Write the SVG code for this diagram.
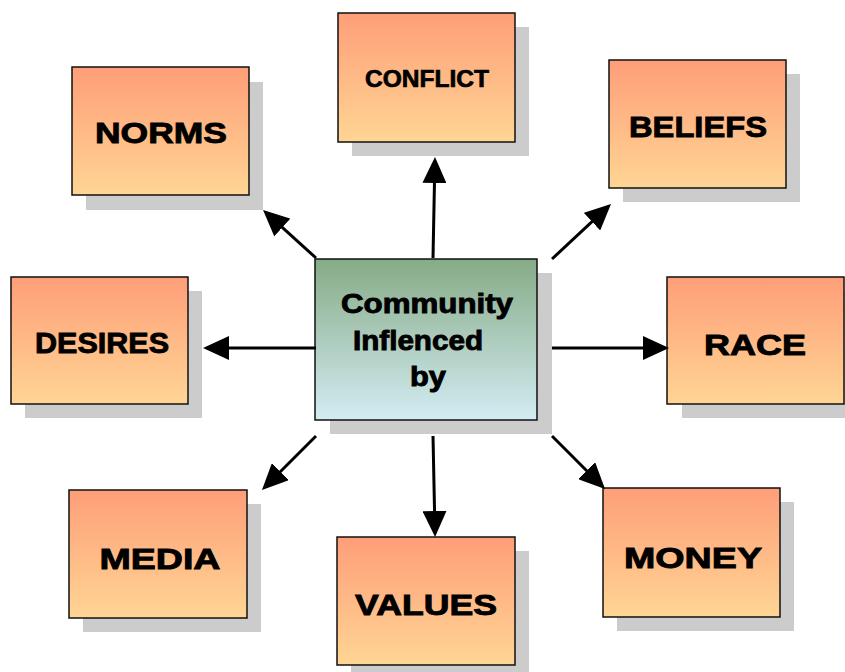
<svg xmlns="http://www.w3.org/2000/svg" width="845" height="672" viewBox="0 0 845 672">
<defs>
<linearGradient id="og" x1="0" y1="0" x2="0" y2="1">
<stop offset="0" stop-color="#fe9e78"/>
<stop offset="1" stop-color="#ffd594"/>
</linearGradient>
<linearGradient id="cg" x1="0" y1="0" x2="0" y2="1">
<stop offset="0" stop-color="#86ab86"/>
<stop offset="1" stop-color="#d3ecf3"/>
</linearGradient>
<marker id="ah" markerUnits="userSpaceOnUse" markerWidth="26" markerHeight="24" refX="22" refY="12" orient="auto">
<path d="M0,0 L26,12 L0,24 z" fill="#000"/>
</marker>
</defs>
<style>
.sh{fill:#cccccc}
.bx{fill:url(#og);stroke:#111;stroke-width:1.5}
.cb{fill:url(#cg);stroke:#111;stroke-width:1.5}
.t{font-family:"Liberation Sans",Arial,sans-serif;font-weight:bold;font-size:30px;fill:#000;stroke:#000;stroke-width:0.9;text-anchor:middle}
.tc{font-family:"Liberation Sans",Arial,sans-serif;font-weight:bold;font-size:23px;fill:#000;stroke:#000;stroke-width:0.7;text-anchor:middle}
.ln{stroke:#000;stroke-width:3;fill:none;marker-end:url(#ah)}
</style>
<rect width="845" height="672" fill="#fff"/>
<g id="norms"><rect class="sh" x="86" y="82" width="177" height="128"/><rect class="bx" x="72" y="67" width="177" height="128"/><text class="t" x="161" y="143" textLength="132" lengthAdjust="spacingAndGlyphs">NORMS</text></g>
<g id="conflict"><rect class="sh" x="352" y="27" width="177" height="129"/><rect class="bx" x="338" y="13" width="177" height="129"/><text class="tc" x="427" y="87" textLength="124" lengthAdjust="spacingAndGlyphs">CONFLICT</text></g>
<g id="beliefs"><rect class="sh" x="623" y="74" width="177" height="128"/><rect class="bx" x="609" y="60" width="177" height="128"/><text class="t" x="698" y="137" textLength="138" lengthAdjust="spacingAndGlyphs">BELIEFS</text></g>
<g id="desires"><rect class="sh" x="25" y="291" width="177" height="127"/><rect class="bx" x="11" y="277" width="177" height="127"/><text class="t" x="102" y="353" textLength="134" lengthAdjust="spacingAndGlyphs">DESIRES</text></g>
<g id="race"><rect class="sh" x="682" y="291" width="177" height="127"/><rect class="bx" x="667" y="277" width="177" height="127"/><text class="t" x="755" y="355" textLength="102" lengthAdjust="spacingAndGlyphs">RACE</text></g>
<g id="media"><rect class="sh" x="83" y="504" width="178" height="128"/><rect class="bx" x="69" y="490" width="178" height="128"/><text class="t" x="160" y="569" textLength="121" lengthAdjust="spacingAndGlyphs">MEDIA</text></g>
<g id="values"><rect class="sh" x="351" y="551" width="178" height="128"/><rect class="bx" x="337" y="537" width="178" height="128"/><text class="t" x="426" y="615" textLength="142" lengthAdjust="spacingAndGlyphs">VALUES</text></g>
<g id="money"><rect class="sh" x="617" y="502" width="177" height="129"/><rect class="bx" x="603" y="488" width="177" height="129"/><text class="t" x="693" y="568" textLength="138" lengthAdjust="spacingAndGlyphs">MONEY</text></g>
<g id="center"><rect class="sh" x="330" y="273" width="222" height="161"/><rect class="cb" x="315" y="259" width="222" height="161"/>
<text class="t" style="font-size:27px" x="427" y="313" textLength="172" lengthAdjust="spacingAndGlyphs">Community</text>
<text class="t" style="font-size:27px" x="418" y="350" textLength="130" lengthAdjust="spacingAndGlyphs">Inflenced</text>
<text class="t" style="font-size:27px" x="428" y="386" textLength="36" lengthAdjust="spacingAndGlyphs">by</text></g>
<g id="connectors">
<line class="ln" x1="316" y1="258" x2="266" y2="212.7"/>
<line class="ln" x1="433" y1="258" x2="434.9" y2="161"/>
<line class="ln" x1="552" y1="259" x2="608.1" y2="206.7"/>
<line class="ln" x1="316" y1="348" x2="207" y2="348"/>
<line class="ln" x1="552" y1="348" x2="665" y2="348"/>
<line class="ln" x1="316" y1="436" x2="264.8" y2="487.2"/>
<line class="ln" x1="433" y1="436" x2="435" y2="533"/>
<line class="ln" x1="552" y1="436" x2="602.2" y2="486.2"/>
</g>
</svg>
